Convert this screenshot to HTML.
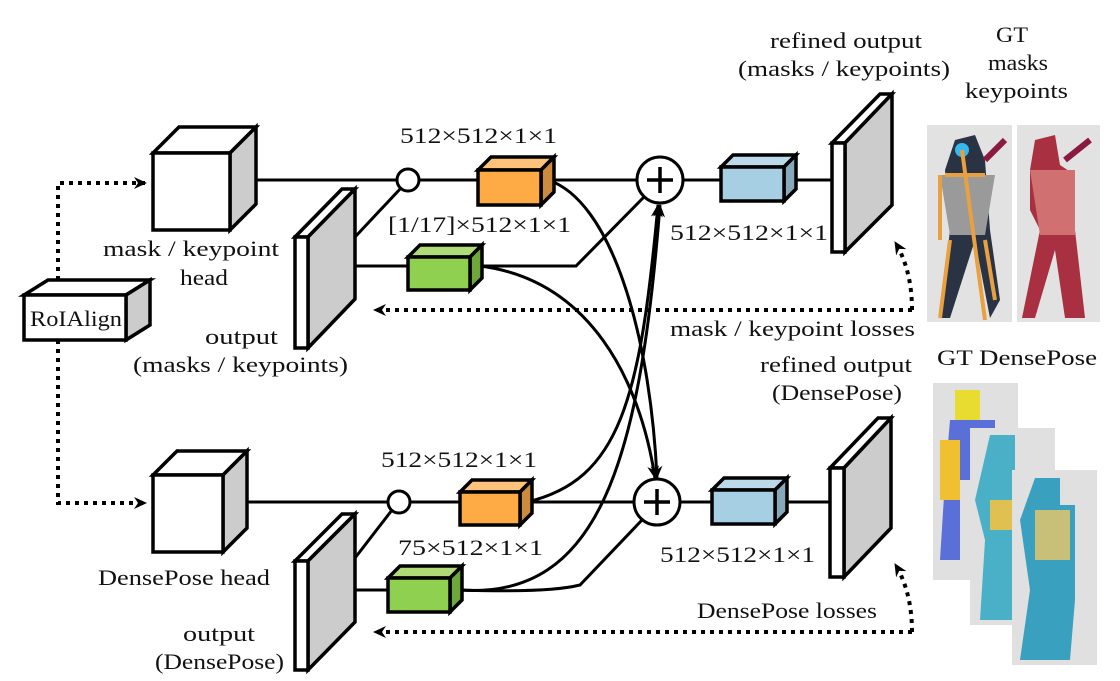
<!DOCTYPE html>
<html><head><meta charset="utf-8"><style>
body{margin:0;background:#fff}
svg{display:block}
text{font-family:"Liberation Serif",serif;font-size:22px;fill:#111}
</style></head><body>
<svg width="1120" height="681" viewBox="0 0 1120 681" xmlns="http://www.w3.org/2000/svg">
<defs>
<marker id="ah" markerWidth="14" markerHeight="12" refX="12" refY="6" orient="auto" markerUnits="userSpaceOnUse">
<path d="M0,0 L13,6 L0,12 L4,6 Z" fill="#000"/></marker>
</defs>
<g stroke="#000" stroke-width="3" fill="none">
<path d="M58,280 V183 H146" stroke-dasharray="4,5" stroke-width="4" marker-end="url(#ah)"/>
<path d="M58,340 V503 H146" stroke-dasharray="4,5" stroke-width="4" marker-end="url(#ah)"/>
<path d="M912,310 H374" stroke-dasharray="4,5" stroke-width="4" marker-end="url(#ah)"/>
<path d="M912,310 Q912,270 895,242" stroke-dasharray="4,5" stroke-width="4" marker-end="url(#ah)"/>
<path d="M912,632 H374" stroke-dasharray="4,5" stroke-width="4" marker-end="url(#ah)"/>
<path d="M912,632 Q912,592 895,564" stroke-dasharray="4,5" stroke-width="4" marker-end="url(#ah)"/>
<path d="M240,180 H397"/><path d="M419,180 H478"/><path d="M548,180 H637"/><path d="M683,180 H721"/><path d="M792,180 H832"/>
<path d="M355,237 L401,188"/>
<path d="M333,266 H408"/><path d="M480,266 H576 L644,197"/>
<path d="M232,502 H388"/><path d="M410,502 H460"/><path d="M527,502 H634"/><path d="M680,502 H712"/><path d="M783,502 H830"/>
<path d="M355,558 L392,510"/>
<path d="M333,590 H388"/><path d="M460,590 C520,592 560,590 580,585 L642,520"/>
<path d="M548,180 C610,200 650,330 657,478" marker-end="url(#ah)"/>
<path d="M480,266 C590,280 640,380 655,478" marker-end="url(#ah)"/>
<path d="M527,502 C620,480 640,400 658,205" marker-end="url(#ah)"/>
<path d="M460,590 C600,600 640,460 660,205" marker-end="url(#ah)"/>
</g>
<g stroke="#000" stroke-width="3.5" stroke-linejoin="miter">
<path d="M24,295 L48,280 H150 L126,295 Z" fill="#fff"/><path d="M126,295 L150,280 V325 L126,340 Z" fill="#ccc"/>
<rect x="24" y="295" width="102" height="45" fill="#fff"/>
<path d="M153,153 L179,127 H256 L230,153 Z" fill="#fff"/><path d="M230,153 L256,127 V204 L230,230 Z" fill="#ccc"/>
<rect x="153" y="153" width="77" height="77" fill="#fff"/>
<path d="M153,475 L177,451 H247 L223,475 Z" fill="#fff"/><path d="M223,475 L247,451 V528 L223,552 Z" fill="#ccc"/>
<rect x="153" y="475" width="70" height="77" fill="#fff"/>
<path d="M295,237 L342,189 H355 L308,237 Z" fill="#fff"/><path d="M308,237 L355,189 V299 L308,348 Z" fill="#ccc"/><rect x="295" y="237" width="13" height="111" fill="#fff"/>
<path d="M295,561 L342,514 H355 L308,561 Z" fill="#fff"/><path d="M308,561 L355,514 V622 L308,670 Z" fill="#ccc"/><rect x="295" y="561" width="13" height="109" fill="#fff"/>
<path d="M832,143 L880,94 H892 L845,143 Z" fill="#fff"/><path d="M845,143 L892,94 V205 L845,252 Z" fill="#ccc"/><rect x="832" y="143" width="13" height="109" fill="#fff"/>
<path d="M830,468 L878,418 H891 L844,468 Z" fill="#fff"/><path d="M844,468 L891,418 V528 L844,577 Z" fill="#ccc"/><rect x="830" y="468" width="14" height="109" fill="#fff"/>
<path d="M478,170 L491,157 H554 L541,170 Z" fill="#ffc27a"/><path d="M541,170 L554,157 V192 L541,205 Z" fill="#cc8a3e"/><rect x="478" y="170" width="63" height="35" fill="#ffab45"/>
<path d="M460,492 L472,480 H532 L520,492 Z" fill="#ffc27a"/><path d="M520,492 L532,480 V513 L520,525 Z" fill="#cc8a3e"/><rect x="460" y="492" width="60" height="33" fill="#ffab45"/>
<path d="M408,257 L420,245 H482 L470,257 Z" fill="#b0dc78"/><path d="M470,257 L482,245 V278 L470,290 Z" fill="#6ea83a"/><rect x="408" y="257" width="62" height="33" fill="#90d050"/>
<path d="M388,578 L400,566 H462 L450,578 Z" fill="#b0dc78"/><path d="M450,578 L462,566 V600 L450,612 Z" fill="#6ea83a"/><rect x="388" y="578" width="62" height="34" fill="#90d050"/>
<path d="M721,167 L733,155 H796 L784,167 Z" fill="#bcd9ea"/><path d="M784,167 L796,155 V189 L784,201 Z" fill="#87a8ba"/><rect x="721" y="167" width="63" height="34" fill="#a6cfe3"/>
<path d="M712,490 L724,478 H787 L775,490 Z" fill="#bcd9ea"/><path d="M775,490 L787,478 V512 L775,524 Z" fill="#87a8ba"/><rect x="712" y="490" width="63" height="34" fill="#a6cfe3"/>
<circle cx="408" cy="180" r="11" fill="#fff" stroke-width="3"/>
<circle cx="399" cy="502" r="11" fill="#fff" stroke-width="3"/>
<circle cx="660" cy="180" r="23" fill="#fff" stroke-width="3"/>
<circle cx="657" cy="502" r="23" fill="#fff" stroke-width="3"/>
</g>
<g stroke="#000" stroke-width="3.5">
<path d="M660,167 V193 M647,180 H673"/><path d="M657,489 V515 M644,502 H670"/>
</g>
<rect x="927" y="125" width="85" height="197" fill="#e2e2e2"/>
<path d="M955,140 L975,135 985,160 990,230 1000,300 990,318 975,240 950,318 940,318 950,230 945,170 Z" fill="#2a3344"/>
<path d="M940,175 H995 L985,235 H950 Z" fill="#9a9a9a"/>
<circle cx="962" cy="150" r="7" fill="#35b8ee"/><path d="M945,175 H985 M962,150 L985,320 M940,175 L940,240 M985,240 L995,300 M950,240 L940,318" stroke="#e8a040" stroke-width="4"/>
<path d="M985,160 L1005,140" stroke="#8a1a40" stroke-width="6"/>
<rect x="1017" y="125" width="83" height="197" fill="#e2e2e2"/>
<path d="M1035,140 L1055,135 1060,165 1075,175 1075,230 1085,318 1065,318 1055,250 1035,318 1022,318 1040,230 1030,210 1030,170 Z" fill="#a83040"/>
<path d="M1030,170 H1075 V235 H1040 Z" fill="#d07070"/>
<path d="M1065,160 L1090,140" stroke="#8a1a40" stroke-width="6"/>
<rect x="933" y="383" width="85" height="197" fill="#e0e0e0"/>
<path d="M955,390 H980 V420 H955 Z" fill="#e8dc30"/><path d="M950,420 H995 V480 H960 V560 H940 L945,480 Z" fill="#5a70d8"/><path d="M940,440 H960 V500 H940 Z" fill="#f0c030"/>
<rect x="970" y="428" width="85" height="197" fill="#e0e0e0"/>
<path d="M990,435 H1015 V470 H1030 V560 L1020,620 H980 L985,540 975,500 Z" fill="#4ab0c8"/><path d="M990,500 H1025 V530 H990 Z" fill="#e0c050"/>
<rect x="1012" y="470" width="85" height="195" fill="#e0e0e0"/>
<path d="M1035,478 H1060 V505 H1075 V600 L1070,660 H1020 L1030,590 1020,520 Z" fill="#3aa0c0"/><path d="M1035,510 H1070 V560 H1035 Z" fill="#c8c078"/>
<text x="400" y="143" textLength="157" lengthAdjust="spacingAndGlyphs">512×512×1×1</text>
<text x="388" y="232" textLength="183" lengthAdjust="spacingAndGlyphs">[1/17]×512×1×1</text>
<text x="103" y="256" textLength="176" lengthAdjust="spacingAndGlyphs">mask / keypoint</text>
<text x="180" y="285" textLength="48" lengthAdjust="spacingAndGlyphs">head</text>
<text x="30" y="326" textLength="92" lengthAdjust="spacingAndGlyphs">RoIAlign</text>
<text x="205" y="344" textLength="73" lengthAdjust="spacingAndGlyphs">output</text>
<text x="133" y="372" textLength="215" lengthAdjust="spacingAndGlyphs">(masks / keypoints)</text>
<text x="670" y="240" textLength="158" lengthAdjust="spacingAndGlyphs">512×512×1×1</text>
<text x="770" y="48" textLength="152" lengthAdjust="spacingAndGlyphs">refined output</text>
<text x="738" y="76" textLength="212" lengthAdjust="spacingAndGlyphs">(masks / keypoints)</text>
<text x="996" y="42" textLength="32" lengthAdjust="spacingAndGlyphs">GT</text>
<text x="988" y="70" textLength="60" lengthAdjust="spacingAndGlyphs">masks</text>
<text x="965" y="98" textLength="103" lengthAdjust="spacingAndGlyphs">keypoints</text>
<text x="670" y="336" textLength="245" lengthAdjust="spacingAndGlyphs">mask / keypoint losses</text>
<text x="937" y="365" textLength="160" lengthAdjust="spacingAndGlyphs">GT DensePose</text>
<text x="760" y="372" textLength="152" lengthAdjust="spacingAndGlyphs">refined output</text>
<text x="772" y="400" textLength="130" lengthAdjust="spacingAndGlyphs">(DensePose)</text>
<text x="381" y="467" textLength="156" lengthAdjust="spacingAndGlyphs">512×512×1×1</text>
<text x="398" y="555" textLength="145" lengthAdjust="spacingAndGlyphs">75×512×1×1</text>
<text x="660" y="562" textLength="155" lengthAdjust="spacingAndGlyphs">512×512×1×1</text>
<text x="98" y="585" textLength="172" lengthAdjust="spacingAndGlyphs">DensePose head</text>
<text x="697" y="618" textLength="180" lengthAdjust="spacingAndGlyphs">DensePose losses</text>
<text x="183" y="641" textLength="72" lengthAdjust="spacingAndGlyphs">output</text>
<text x="155" y="669" textLength="129" lengthAdjust="spacingAndGlyphs">(DensePose)</text>
</svg>
</body></html>
